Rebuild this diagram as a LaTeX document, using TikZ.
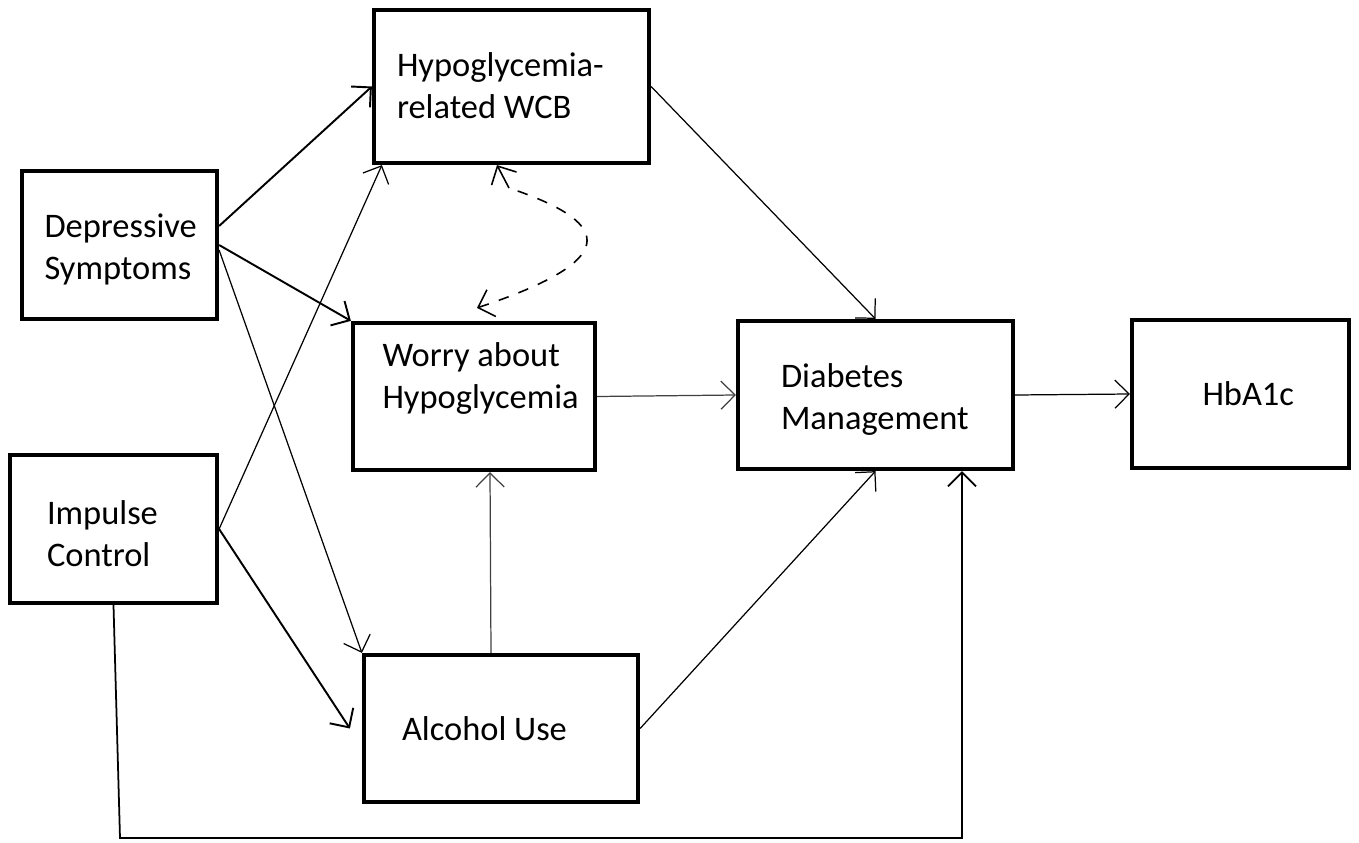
\documentclass[tikz,border=0pt]{standalone}
\usepackage{fontspec}
\setmainfont{Carlito}
\usetikzlibrary{arrows.meta}
\newcommand{\liftgap}[1]{\endgraf\vspace*{#1}}

\begin{document}
\begin{tikzpicture}[
    >={Straight Barb[length=4pt,width=8pt]},
    box/.style={draw, line width=1.2pt, align=flush left, inner sep=0pt, font=\fontsize{9.8}{12}\selectfont},
    arr/.style={->, line width=0.35pt},
    arrthick/.style={->, line width=0.55pt},
    lift/.style={execute at end node={\liftgap{#1}}}
  ]
  \useasboundingbox (0,0) rectangle (13.59,8.42);
  %% boxes
  \node[box, minimum width=2.75cm, minimum height=1.53cm, text width=2.29cm, lift=0.02cm] (wcb) at (5.115,7.555) {Hypoglycemia-\\related WCB};
  \node[box, minimum width=1.95cm, minimum height=1.48cm, text width=1.5cm, lift=-0.09cm] (dep) at (1.195,5.97) {Depressive\\Symptoms};
  \node[box, minimum width=2.42cm, minimum height=1.47cm, text width=2.11cm, lift=0.36cm] (worry) at (4.74,4.455) {\hspace*{0.14cm}Worry about\\\hspace*{0.14cm}Hypoglycemia};
  \node[box, minimum width=2.75cm, minimum height=1.48cm, text width=1.89cm, lift=-0.09cm] (dm) at (8.755,4.47) {Diabetes\\Management};
  \node[box, minimum width=2.17cm, minimum height=1.48cm, text width=1.07cm, align=flush right] (hba) at (12.405,4.48) {HbA1c};
  \node[box, minimum width=2.07cm, minimum height=1.48cm, text width=1.33cm, lift=-0.09cm] (imp) at (1.135,3.13) {Impulse\\Control};
  \node[box, minimum width=2.74cm, minimum height=1.47cm, text width=1.98cm] (alc) at (5.01,1.135) {Alcohol Use};
  %% from depressive symptoms
  \draw[arrthick] ([yshift=0.19cm]dep.east) -- (wcb.west);
  \draw[arrthick] (dep.east) -- (worry.north west);
  \draw[arr] ([yshift=-0.05cm]dep.east) -- (alc.north west);
  %% from impulse control
  \draw[arr] (imp.east) -- ([xshift=0.1cm]wcb.south west);
  \draw[arrthick] (imp.east) -- ([xshift=-0.12cm]alc.west);
  \coordinate (low) at (1.20,0.04);
  \draw[->, line width=0.5pt] (imp.south) -- (low) -| ([xshift=0.865cm]dm.south);
  %% mediators
  \draw[arr] (wcb.east) -- (dm.north);
  \draw[arr, black!75] (worry.east) -- (dm.west);
  \draw[arr, black!75] ([xshift=-0.1cm]alc.north) -- ([xshift=0.16cm]worry.south);
  \draw[arr] (alc.east) -- (dm.south);
  \draw[arr] (dm.east) -- (hba.west);
  %% correlation
  \coordinate (mid) at (5.09,6.54);
  \draw[<-, dashed, line width=0.45pt] ([xshift=0.03cm,yshift=0.13cm]worry.north) .. controls (6.15,5.80) and (6.20,6.17) .. (mid);
  \draw[->, line width=0.45pt] (mid) -- ([xshift=-0.145cm]wcb.south);
\end{tikzpicture}
\end{document}
